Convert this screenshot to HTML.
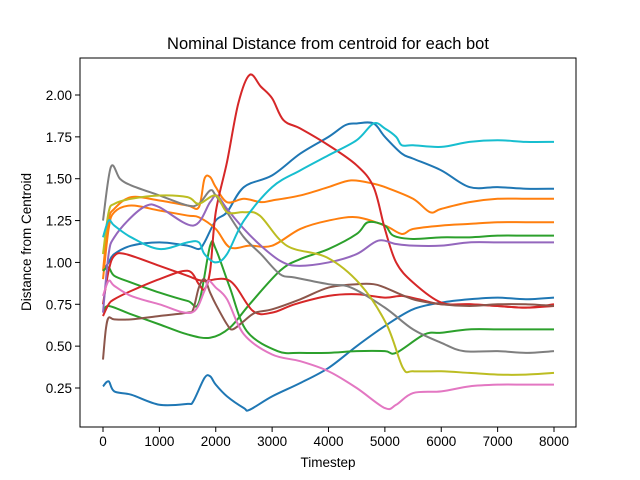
<!DOCTYPE html>
<html><head><meta charset="utf-8"><style>
body{margin:0;background:#fff;}
svg{display:block;font-family:"Liberation Sans","DejaVu Sans",sans-serif;}
</style></head><body>
<svg id="chart" width="640" height="480">
<rect width="640" height="480" fill="#fff"/>
<text x="328" y="49" font-size="16.5" text-anchor="middle">Nominal Distance from centroid for each bot</text>
<text x="328" y="467" font-size="13.5" text-anchor="middle">Timestep</text>
<text x="0" y="0" font-size="13.5" text-anchor="middle" transform="translate(31,242) rotate(-90)">Distance from Centroid</text>
<g id="lines"></g>
<g id="axes"></g>
</svg>
<script>
const xTicks=[0,1000,2000,3000,4000,5000,6000,7000,8000];
const yTicks=[0.25,0.50,0.75,1.00,1.25,1.50,1.75,2.00];
const s0T=[0,100,200,500,1000,1500,1600,1800,1900,2000,2200,2500,2600,3000,3500,4000,4500,5000,5500,6000,6500,7000,7500,8000];
const s0V=[0.26,0.29,0.23,0.21,0.15,0.155,0.17,0.31,0.32,0.27,0.2,0.13,0.12,0.2,0.28,0.37,0.5,0.62,0.72,0.76,0.78,0.79,0.78,0.79];
const s1T=[0,100,200,500,1000,1500,1700,1800,2000,2200,2500,3000,3500,4000,4300,4500,4800,5000,5300,5500,6000,6500,7000,7500,8000];
const s1V=[0.95,1.0,1.05,1.1,1.12,1.1,1.08,1.12,1.25,1.3,1.45,1.52,1.65,1.75,1.82,1.83,1.83,1.75,1.65,1.62,1.55,1.45,1.45,1.44,1.44];
const s2T=[0,100,200,500,1000,1500,1700,1800,1900,2000,2200,2500,2800,3000,3500,4000,4400,4800,5000,5500,5800,6000,6500,7000,7500,8000];
const s2V=[0.95,1.25,1.32,1.39,1.37,1.34,1.33,1.50,1.51,1.45,1.36,1.38,1.36,1.37,1.40,1.45,1.49,1.47,1.45,1.38,1.30,1.32,1.36,1.38,1.38,1.38];
const s3T=[0,100,200,500,1000,1500,1700,2000,2250,2600,3000,3500,4000,4500,5000,5300,5500,6000,6500,7000,7500,8000];
const s3V=[0.9,1.2,1.3,1.34,1.31,1.28,1.27,1.2,1.09,1.1,1.1,1.2,1.25,1.27,1.22,1.17,1.2,1.22,1.23,1.24,1.24,1.24];
const s4T=[0,100,200,500,1000,1500,1700,1900,2000,2250,2550,3100,3500,4000,4500,5000,5200,5700,6000,6500,7000,7500,8000];
const s4V=[0.95,0.97,0.92,0.88,0.82,0.77,0.76,1.1,1.08,0.85,0.59,0.47,0.46,0.46,0.47,0.47,0.46,0.57,0.58,0.6,0.6,0.6,0.6];
const s5T=[0,100,500,1000,1500,1900,2250,2600,3140,3500,4000,4500,4700,5000,5150,5500,6000,6500,7000,7500,8000];
const s5V=[0.7,0.74,0.69,0.63,0.57,0.55,0.61,0.75,0.95,1.02,1.08,1.17,1.24,1.22,1.16,1.14,1.15,1.15,1.16,1.16,1.16];
const s6T=[0,100,200,400,1000,1500,1770,2250,2660,3000,3400,4000,4500,5000,5300,5600,6000,6500,7000,7500,8000];
const s6V=[0.75,0.95,1.04,1.05,0.98,0.92,0.89,0.89,0.71,0.70,0.75,0.8,0.81,0.79,0.8,0.78,0.75,0.75,0.74,0.73,0.74];
const s7T=[0,100,200,500,1000,1500,1700,1800,1900,2000,2200,2400,2600,2800,3000,3200,3500,4000,4500,4800,5000,5200,5500,6000,6500,7000,7500,8000];
const s7V=[0.68,0.75,0.78,0.83,0.9,0.95,0.87,0.84,0.95,1.3,1.6,1.95,2.12,2.05,1.98,1.85,1.8,1.70,1.58,1.45,1.2,1.0,0.88,0.76,0.75,0.74,0.73,0.75];
const s8T=[0,100,200,500,780,1000,1600,1900,2020,2200,2500,2800,3140,3440,4000,4500,4880,5200,5500,6000,6500,7000,7500,8000];
const s8V=[0.7,1.05,1.15,1.27,1.34,1.33,1.22,1.36,1.40,1.32,1.2,1.1,1.01,0.98,1.0,1.05,1.13,1.11,1.1,1.1,1.12,1.12,1.12,1.12];
const s9T=[0,50,100,200,500,1000,1500,1600,1700,1800,1900,2000,2200,2300,2500,2700,3000,3500,4000,4500,4800,5000,5500,6000,6500,7000,7500,8000];
const s9V=[0.42,0.6,0.67,0.66,0.66,0.68,0.70,0.72,0.85,0.9,0.82,0.75,0.63,0.6,0.65,0.7,0.72,0.78,0.85,0.87,0.87,0.85,0.78,0.75,0.74,0.75,0.75,0.74];
const s10T=[0,100,200,500,1000,1570,1800,1870,2000,2200,2500,3000,3500,4000,4500,5000,5200,5500,6000,6500,7000,7500,8000];
const s10V=[0.8,0.89,0.86,0.8,0.75,0.70,0.83,0.89,0.85,0.78,0.57,0.45,0.41,0.35,0.25,0.13,0.15,0.22,0.23,0.26,0.27,0.27,0.27];
const s11T=[0,140,300,500,1000,1500,1700,1900,2000,2200,2500,2800,3140,3400,4000,4400,5000,5500,6000,6400,7000,7500,8000];
const s11V=[1.25,1.57,1.5,1.46,1.4,1.34,1.35,1.43,1.4,1.3,1.15,1.05,0.93,0.91,0.87,0.85,0.73,0.6,0.52,0.47,0.47,0.46,0.47];
const s12T=[0,100,200,500,1000,1500,1700,2000,2200,2500,2780,3260,3970,4560,5030,5320,5500,6000,6500,7000,7500,8000];
const s12V=[1.05,1.3,1.35,1.38,1.4,1.39,1.35,1.4,1.3,1.3,1.28,1.1,1.03,0.87,0.63,0.37,0.35,0.35,0.34,0.33,0.33,0.34];
const s13T=[0,100,200,500,1000,1500,1700,1800,2000,2200,2500,3000,3500,4000,4500,4800,5000,5200,5300,5500,6000,6500,7000,7500,8000];
const s13V=[1.15,1.25,1.22,1.15,1.08,1.12,1.12,1.05,1.0,1.05,1.25,1.45,1.55,1.64,1.73,1.83,1.8,1.75,1.7,1.70,1.69,1.72,1.73,1.72,1.72];
const seriesT=[s0T,s1T,s2T,s3T,s4T,s5T,s6T,s7T,s8T,s9T,s10T,s11T,s12T,s13T];
const seriesV=[s0V,s1V,s2V,s3V,s4V,s5V,s6V,s7V,s8V,s9V,s10V,s11V,s12V,s13V];
const seriesC=["#1f77b4","#1f77b4","#ff7f0e","#ff7f0e","#2ca02c","#2ca02c","#d62728","#d62728","#9467bd","#8c564b","#e377c2","#7f7f7f","#bcbd22","#17becf"];
const seriesN=["bot-blue-low","bot-blue-high","bot-orange-high","bot-orange-low","bot-green-a","bot-green-b","bot-red-b","bot-red-spike","bot-purple","bot-brown","bot-pink","bot-gray","bot-olive","bot-cyan"];

const L=80,R=576,T=58,B=427;
const x=t=>103+t*(554-103)/8000;
const y=v=>388-(v-0.25)*(388-95)/1.75;
const NS="http://www.w3.org/2000/svg";
const lines=document.getElementById('lines');
function path(ts,vs){
  const p=ts.map((t,i)=>[x(t),y(vs[i])]);
  let d=`M${p[0][0]},${p[0][1]}`;
  for(let i=0;i<p.length-1;i++){
    const p0=p[Math.max(i-1,0)],p1=p[i],p2=p[i+1],p3=p[Math.min(i+2,p.length-1)];
    const c1=[p1[0]+(p2[0]-p0[0])/6,p1[1]+(p2[1]-p0[1])/6];
    const c2=[p2[0]-(p3[0]-p1[0])/6,p2[1]-(p3[1]-p1[1])/6];
    d+=` C${c1[0]},${c1[1]} ${c2[0]},${c2[1]} ${p2[0]},${p2[1]}`;
  }
  return d;
}
seriesT.forEach((ts,i)=>{
  const el=document.createElementNS(NS,'path');
  el.setAttribute('d',path(ts,seriesV[i]));
  el.setAttribute('fill','none');
  el.setAttribute('stroke',seriesC[i]);
  el.setAttribute('stroke-width','2');
  
  
  lines.appendChild(el);
});
const ax=document.getElementById('axes');
const frame=document.createElementNS(NS,'rect');
frame.setAttribute('x',L);frame.setAttribute('y',T);frame.setAttribute('width',R-L);frame.setAttribute('height',B-T);
frame.setAttribute('fill','none');frame.setAttribute('stroke','#000');frame.setAttribute('stroke-width','1');


ax.appendChild(frame);
xTicks.forEach(t=>{
  const l=document.createElementNS(NS,'line');
  l.setAttribute('x1',x(t));l.setAttribute('x2',x(t));l.setAttribute('y1',B);l.setAttribute('y2',B+5);l.setAttribute('stroke','#000');
  
  
  ax.appendChild(l);
  const tx=document.createElementNS(NS,'text');
  tx.setAttribute('x',x(t));tx.setAttribute('y',B+19);tx.setAttribute('font-size','13.5');tx.setAttribute('text-anchor','middle');
  tx.textContent=t;
  
  
  ax.appendChild(tx);
});
yTicks.forEach(v=>{
  const l=document.createElementNS(NS,'line');
  l.setAttribute('x1',L-5);l.setAttribute('x2',L);l.setAttribute('y1',y(v));l.setAttribute('y2',y(v));l.setAttribute('stroke','#000');
  
  
  ax.appendChild(l);
  const tx=document.createElementNS(NS,'text');
  tx.setAttribute('x',L-8);tx.setAttribute('y',y(v)+5);tx.setAttribute('font-size','13.5');tx.setAttribute('text-anchor','end');
  tx.textContent=v.toFixed(2);
  
  
  ax.appendChild(tx);
});
</script>
</body></html>
